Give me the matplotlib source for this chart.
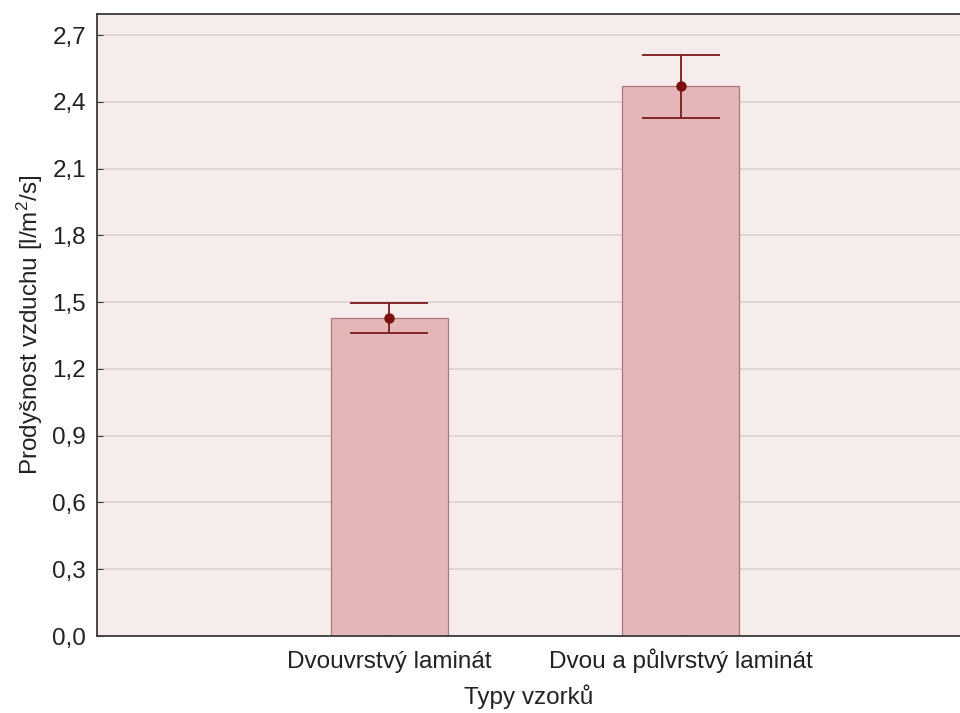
import matplotlib
matplotlib.use("Agg")
import matplotlib.pyplot as plt
import numpy as np

categories = ["Dvouvrstvý laminát", "Dvou a půlvrstvý laminát"]
means = [1.43, 2.47]
errors = [0.068, 0.143]
yticks = [0.0, 0.3, 0.6, 0.9, 1.2, 1.5, 1.8, 2.1, 2.4, 2.7]

plt.rcParams['font.family'] = ['Liberation Sans', 'DejaVu Sans']
plt.rcParams['mathtext.fontset'] = 'custom'
plt.rcParams['mathtext.rm'] = 'Liberation Sans'
plt.rcParams['mathtext.it'] = 'Liberation Sans'

fig = plt.figure(figsize=(9.6, 7.13), dpi=100)
ax = fig.add_axes([97/960, 1 - 636/713, 1 - 97/960 + 0.001, (636 - 14)/713])
ax.set_facecolor('#F6ECEC')

x = np.arange(len(categories))
ax.bar(x, means, width=0.40, color='#E5B6B7', edgecolor='#A57A7A', linewidth=0.9, zorder=2)
ax.errorbar(x, means, yerr=errors, fmt='o', color='#7A1010', ecolor='#7A1A1A',
            markersize=6.5, capsize=28, elinewidth=1.3, capthick=1.3, zorder=3)

ax.set_xlim(-1.003, 1.962)
ax.set_ylim(0, 2.795)
ax.set_yticks(yticks)
ax.set_yticklabels([f"{v:.1f}".replace('.', ',') for v in yticks])
ax.set_xticks(x)
ax.set_xticklabels(categories)
ax.grid(axis='y', color='#DCD2D2', linewidth=1.2, zorder=0)
ax.set_axisbelow(True)

for s in ['left', 'bottom', 'top']:
    ax.spines[s].set_color('#3A3A3A')
    ax.spines[s].set_linewidth(1.3)
ax.spines['right'].set_visible(False)
ax.tick_params(axis='both', direction='in', length=4, color='#3A3A3A', labelsize=17.5, labelcolor='#222222')
ax.tick_params(axis='y', pad=8)
ax.tick_params(axis='x', pad=23)
for lbl in ax.get_xticklabels():
    lbl.set_verticalalignment('baseline')

ax.set_ylabel("Prodyšnost vzduchu [l/m$^\\mathregular{2}$/s]", fontsize=17.5, color='#222222', labelpad=5)
ax.set_xlabel("Typy vzorků", fontsize=17.5, color='#222222', labelpad=8)

fig.savefig("out.png", dpi=100, facecolor='white')
